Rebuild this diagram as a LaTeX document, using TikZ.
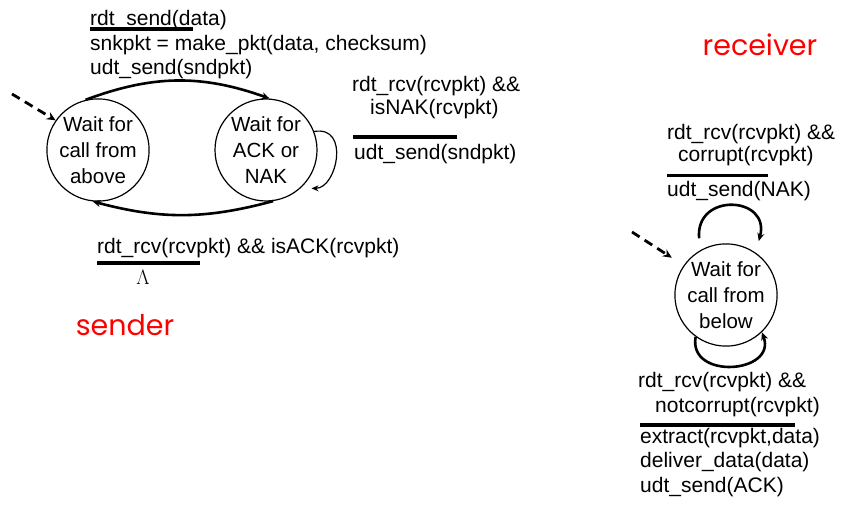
\documentclass[tikz,border=0pt]{standalone}
\usepackage{fontspec}
\usepackage{tikz}
\usetikzlibrary{arrows.meta}
\setmainfont{Liberation Sans}
\newfontfamily\handfont{Poppins}
\definecolor{side}{RGB}{255, 0, 0}

\tikzset{
  state/.style={draw, circle, line width=1.2pt, minimum size=102pt, inner sep=0pt,
    align=center, font=\fontsize{20.5}{26}\selectfont},
  lbl/.style={anchor=base west, inner sep=0pt, align=left,
    font=\fontsize{21}{24.5}\selectfont},
  bar/.style={line width=3.5pt},
  trans/.style={line width=2.6pt, -{Stealth[length=8pt,width=7pt]}},
  thintrans/.style={line width=1.2pt, -{Stealth[length=7pt,width=6pt]}},
  init/.style={line width=2.8pt, dash pattern=on 9pt off 6pt,
    -{Stealth[length=9pt,width=8pt]}},
  side/.style={text=side, font=\handfont\fontsize{28.5}{30}\selectfont}
}

\begin{document}
\begin{tikzpicture}[x=1pt, y=1pt]
\useasboundingbox (0,0) rectangle (845,-510);

% Sender states
\node[state] (above) at (98,-150) {Wait for\\call from\\above};
\node[state] (acknak) at (266,-150) {Wait for\\ACK or\\NAK};

% Receiver state
\node[state] (below) at (726,-295) {Wait for\\call from\\below};

% Initial arrows
\coordinate (sstart) at (12,-94);
\coordinate (rstart) at (632,-232);
\draw[init] (sstart) -- (above.145);
\draw[init, shorten >=14pt] (rstart) -- (below.145);

% Sender transitions
\draw[trans] (above.104) to[bend left=20] (acknak.86);
\draw[trans] (acknak.-82) to[bend left=15] (above.-96);
\draw[thintrans, shorten >=11pt] (acknak.21) to[out=10, in=0, looseness=1.6] (acknak.-48);

% Receiver transitions
\draw[trans, shorten <=12pt, shorten >=12pt] (below.120) to[out=95, in=75, looseness=2.7] (below.55);
\draw[trans] (below.-126) to[out=-100, in=-70, looseness=1.7] (below.-46);

% Sender labels (base = last line)
\node[lbl] (sendev) at (90,-26) {rdt\_send(data)};
\draw[bar] (90,-29) -- (193,-29);
\node[lbl] (sendact) at (90,-75) {snkpkt = make\_pkt(data, checksum)\\udt\_send(sndpkt)};

\node[lbl, font=\fontsize{21}{23}\selectfont] (nakev) at (352,-115) {rdt\_rcv(rcvpkt) \&\&\\\hspace*{18pt}isNAK(rcvpkt)};
\draw[bar] (353,-137) -- (457,-137);
\node[lbl] (nakact) at (354,-160) {udt\_send(sndpkt)};

\node[lbl] (ackev) at (97,-254) {rdt\_rcv(rcvpkt) \&\& isACK(rcvpkt)};
\draw[bar] (97,-263) -- (200,-263);
\node[lbl, anchor=base] (ackact) at (143,-284) {$\Lambda$};

% Receiver labels
\node[lbl, font=\fontsize{21}{22.5}\selectfont] (correv) at (667,-162) {rdt\_rcv(rcvpkt) \&\&\\\hspace*{11pt}corrupt(rcvpkt)};
\draw[bar] (667,-175.5) -- (768,-175.5);
\node[lbl] (corract) at (667,-197) {udt\_send(NAK)};

\node[lbl] (okev) at (638,-412) {rdt\_rcv(rcvpkt) \&\&\\\hspace*{17pt}notcorrupt(rcvpkt)};
\draw[bar] (640,-425) -- (795,-425);
\node[lbl] (okact) at (640,-492) {extract(rcvpkt,data)\\deliver\_data(data)\\udt\_send(ACK)};

% Side names
\node[side] (sender) at (125,-325) {sender};
\node[side] (receiver) at (760,-45) {receiver};
\end{tikzpicture}
\end{document}
